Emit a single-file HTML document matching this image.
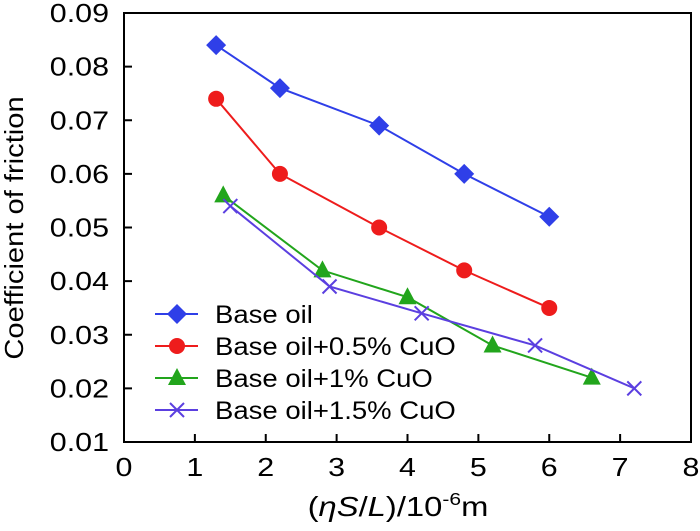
<!DOCTYPE html>
<html><head><meta charset="utf-8"><style>
body{margin:0;background:#fff}
svg{font-family:"Liberation Sans",Arial,sans-serif}
</style></head><body>
<svg id="c" width="700" height="526" viewBox="0 0 700 526"></svg>
<script>
const xs1=[1.3,2.2,3.6,4.8,6], ys1=[0.084,0.076,0.069,0.060,0.052];
const xs2=[1.3,2.2,3.6,4.8,6], ys2=[0.074,0.060,0.050,0.042,0.035];
const xs3=[1.4,2.8,4,5.2,6.6], ys3=[0.056,0.042,0.037,0.028,0.022];
const xs4=[1.5,2.9,4.2,5.8,7.2], ys4=[0.054,0.039,0.034,0.028,0.020];
const seriesNames=["Base oil","Base oil+0.5% CuO","Base oil+1% CuO","Base oil+1.5% CuO"];
const xTicks=[0,1,2,3,4,5,6,7,8];
const yTicks=["0.01","0.02","0.03","0.04","0.05","0.06","0.07","0.08","0.09"];
const L=124,R=691,T=13,B=442;
const X=v=>L+(v-0)/8*(R-L);
const Y=v=>B-(v-0.01)/0.08*(B-T);
const s=document.getElementById('c');const NS="http://www.w3.org/2000/svg";
function el(t,a,p){const e=document.createElementNS(NS,t);for(const k in a)e.setAttribute(k,a[k]);(p||s).appendChild(e);return e;}
function stretch(t,f){const w=t.getComputedTextLength();t.setAttribute('textLength',w*f);t.setAttribute('lengthAdjust','spacingAndGlyphs');}
let ax=el('rect',{x:L,y:T,width:R-L,height:B-T,fill:'none',stroke:'#000','stroke-width':2});

xTicks.forEach(v=>{const x=X(v);
 if(v>0&&v<8){let t=el('line',{x1:x,x2:x,y1:B,y2:B-8,stroke:'#000','stroke-width':2});}
 let tx=el('text',{x:x,y:B+34,'font-size':26,'text-anchor':'middle'});tx.textContent=v;stretch(tx,1.17);
 });
yTicks.forEach(v=>{const y=Y(+v);
 if(+v>0.01&&+v<0.09){let t=el('line',{x1:L,x2:L+8,y1:y,y2:y,stroke:'#000','stroke-width':2});}
 let tx=el('text',{x:L-15,y:y+9,'font-size':26,'text-anchor':'end'});tx.textContent=v;stretch(tx,1.17);
 });
let yt=el('text',{x:0,y:0,'font-size':26,'text-anchor':'middle',transform:'translate(23,228) rotate(-90)'});yt.textContent='Coefficient of friction';stretch(yt,1.12);

let xt=el('text',{x:0,y:0,'font-size':28,'text-anchor':'middle',transform:'translate(398,516) scale(1.17,1)'});
xt.innerHTML='(<tspan font-style="italic">ηS</tspan>/<tspan font-style="italic">L</tspan>)/10<tspan font-size="18" dy="-11">-6</tspan><tspan dy="11">m</tspan>';

const cols=['#2f3fe8','#ee1c1c','#22a51c','#5b3fe0'];
function marker(k,x,y,g){const c=cols[k];
 if(k==0)return el('polygon',{points:`${x},${y-10} ${x+10},${y} ${x},${y+10} ${x-10},${y}`,fill:c},g);
 if(k==1)return el('circle',{cx:x,cy:y,r:8,fill:c},g);
 if(k==2)return el('polygon',{points:`${x},${y-10} ${x+9},${y+7} ${x-9},${y+7}`,fill:c},g);
 return el('path',{d:`M${x-7},${y-7}L${x+7},${y+7}M${x-7},${y+7}L${x+7},${y-7}`,stroke:c,'stroke-width':2},g);}
[[xs1,ys1],[xs2,ys2],[xs3,ys3],[xs4,ys4]].forEach(([xs,ys],k)=>{
 const g=el('g',{});
 el('polyline',{points:xs.map((v,i)=>X(v)+','+Y(ys[i])).join(' '),fill:'none',stroke:cols[k],'stroke-width':2},g);
 xs.forEach((v,i)=>{const m=marker(k,X(v),Y(ys[i]),g);});
 const ly=314+k*32;
 const lg=el('g',{});
 el('line',{x1:155,x2:198,y1:ly,y2:ly,stroke:cols[k],'stroke-width':2},lg);marker(k,177,ly,lg);
 const t=el('text',{x:215,y:ly+9,'font-size':25},lg);t.textContent=seriesNames[k];stretch(t,1.1);});
</script>
</body></html>
